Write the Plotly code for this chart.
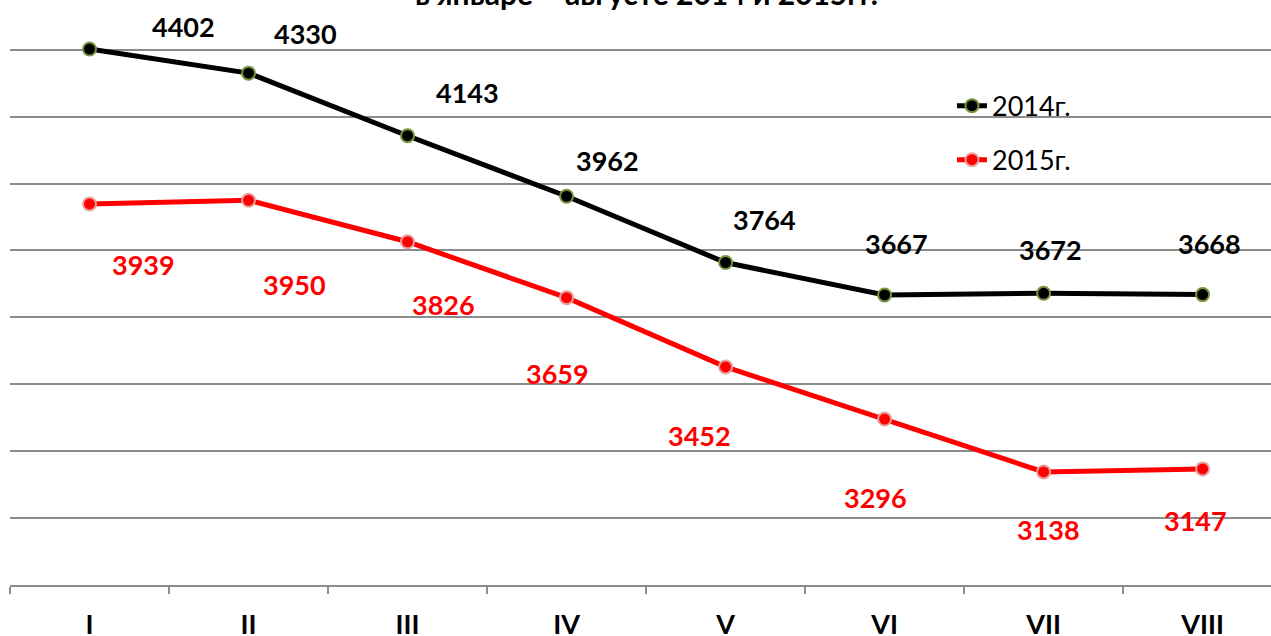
import plotly.graph_objects as go

months = ["I", "II", "III", "IV", "V", "VI", "VII", "VIII"]
y2014 = [4402, 4330, 4143, 3962, 3764, 3667, 3672, 3668]
y2015 = [3939, 3950, 3826, 3659, 3452, 3296, 3138, 3147]
name2014 = "2014г."
name2015 = "2015г."
title_text = "в январе – августе 2014 и 2015гг."

# label pixel offsets (style)
off2014 = [(94, 23), (57, 40), (60, 43), (41, 36), (39, 43), (12, 51), (7, 44), (7, 51)]
off2015 = [(54, -61), (46, -84), (36, -63), (-9, -76), (-26, -69), (-9, -78), (5, -58), (-7, -52)]

FONT = "Lato"
xs = list(range(len(months)))

fig = go.Figure()
fig.add_trace(go.Scatter(
    x=xs, y=y2014, name=name2014, mode="lines+markers",
    line=dict(color="black", width=5),
    marker=dict(size=13, color="black", line=dict(color="#77933C", width=2)),
    cliponaxis=False, legendgroup="a"))
fig.add_trace(go.Scatter(
    x=xs, y=y2015, name=name2015, mode="lines+markers",
    line=dict(color="#FF0000", width=5),
    marker=dict(size=13, color="#FF0000", line=dict(color="#E6A0A0", width=2)),
    cliponaxis=False, legendgroup="b"))

for i, v in enumerate(y2014):
    fig.add_annotation(x=i, y=v, text=str(v), showarrow=False,
                       xshift=off2014[i][0], yshift=off2014[i][1],
                       font=dict(family=FONT, size=27, color="black", weight="bold"))
for i, v in enumerate(y2015):
    fig.add_annotation(x=i, y=v, text=str(v), showarrow=False,
                       xshift=off2015[i][0], yshift=off2015[i][1],
                       font=dict(family=FONT, size=27, color="#FF0000", weight="bold"))

fig.add_annotation(xref="paper", yref="paper", x=0.505, y=1.0, yanchor="middle", yshift=40,
                   text=title_text, showarrow=False,
                   font=dict(family=FONT, size=30, color="black", weight="bold"))

fig.update_layout(
    width=1271, height=636,
    margin=dict(l=10, r=0, t=33, b=51, autoexpand=False),
    paper_bgcolor="white", plot_bgcolor="white",
    font=dict(family=FONT),
    showlegend=True,
    legend=dict(x=0.747, y=0.912, xanchor="left", yanchor="top",
                font=dict(family=FONT, size=27, color="black"),
                bgcolor="rgba(0,0,0,0)", tracegroupgap=16, traceorder="grouped"),
    xaxis=dict(range=[-0.5, 7.43], tickvals=xs, ticktext=months, ticks="",
               automargin=False,
               showgrid=False, zeroline=False, showline=True, linecolor="#8C8C8C", linewidth=2,
               tickfont=dict(family=FONT, size=27, color="black", weight="bold"),
               ticklabelstandoff=15,
               minor=dict(tickmode="linear", tick0=-0.5, dtick=1, ticks="outside",
                          ticklen=7, tickwidth=2, tickcolor="#8C8C8C", showgrid=False)),
    yaxis=dict(range=[2800, 4450], tickvals=[3000, 3200, 3400, 3600, 3800, 4000, 4200, 4400],
               automargin=False,
               showticklabels=False, ticks="", showgrid=True, gridcolor="#8C8C8C", gridwidth=1.5,
               zeroline=False, showline=False),
)

fig.write_html("out.html", config={"displayModeBar": False},
               post_script="document.body.style.margin='0';")
